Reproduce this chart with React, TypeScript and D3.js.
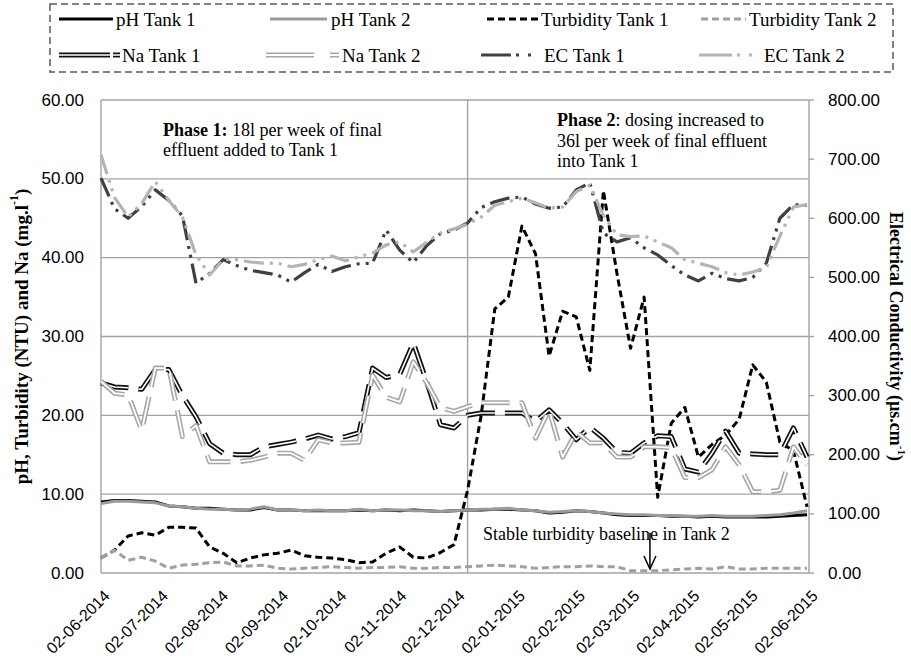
import React from "react";
import * as d3 from "d3";

const dates = [
  "2014-06-02","2014-06-09","2014-06-16","2014-06-23","2014-06-30","2014-07-07","2014-07-14","2014-07-21","2014-07-28",
  "2014-08-04","2014-08-11","2014-08-18","2014-08-25","2014-09-01","2014-09-08","2014-09-15","2014-09-22","2014-09-29",
  "2014-10-06","2014-10-13","2014-10-20","2014-10-27","2014-11-03","2014-11-10","2014-11-17","2014-11-24","2014-12-01",
  "2014-12-08","2014-12-15","2014-12-22","2014-12-29","2015-01-05","2015-01-12","2015-01-19","2015-01-26","2015-02-02",
  "2015-02-09","2015-02-16","2015-02-23","2015-03-02","2015-03-09","2015-03-16","2015-03-23","2015-03-30","2015-04-06",
  "2015-04-13","2015-04-20","2015-04-27","2015-05-04","2015-05-11","2015-05-18","2015-05-25","2015-06-01"
];

const phTank1 = [9.0,9.2,9.2,9.1,9.0,8.5,8.4,8.2,8.2,8.1,8.0,8.0,8.3,8.0,8.0,7.9,7.9,7.9,7.9,8.0,7.9,8.0,7.9,8.0,7.9,7.8,7.9,8.0,8.0,8.1,8.1,8.0,7.9,7.6,7.7,7.9,7.8,7.6,7.4,7.3,7.3,7.3,7.2,7.2,7.1,7.2,7.1,7.1,7.1,7.1,7.2,7.3,7.4];
const phTank2 = [8.8,9.1,9.1,9.0,8.9,8.5,8.4,8.2,8.1,8.1,8.0,8.1,8.4,8.0,8.0,7.9,8.0,7.9,7.9,8.1,7.9,8.0,8.0,7.9,7.9,7.8,7.9,8.0,8.1,8.1,8.2,8.0,7.9,7.7,7.8,7.9,7.8,7.6,7.5,7.4,7.4,7.3,7.3,7.2,7.2,7.3,7.2,7.2,7.2,7.3,7.4,7.6,7.9];
const turbTank1 = [1.9,2.9,4.7,5.1,4.8,5.8,5.8,5.7,3.3,2.5,1.3,1.9,2.3,2.5,2.9,2.2,2.0,1.9,1.7,1.3,1.4,2.5,3.3,2.0,1.9,2.6,3.6,10.5,20.0,33.5,35.0,44.0,40.5,27.5,33.2,32.5,25.7,48.5,38.0,28.5,35.0,9.6,19.0,21.0,14.7,16.3,17.5,19.5,26.4,24.2,16.6,15.5,8.4];
const turbTank2 = [1.9,2.9,1.6,2.0,1.5,0.6,1.0,1.1,1.3,1.4,0.9,0.9,1.0,0.6,0.5,0.6,0.7,0.8,0.7,0.6,0.7,0.7,0.8,0.6,0.6,0.7,0.7,0.8,0.9,1.0,0.9,0.8,0.6,0.7,0.8,0.8,0.9,0.8,0.8,0.3,0.3,0.3,0.4,0.5,0.6,0.5,0.8,0.5,0.5,0.6,0.6,0.6,0.6];
const naTank1 = [24.1,23.6,23.5,23.3,25.8,25.8,22.5,19.8,16.4,15.2,15.0,15.0,16.0,16.3,16.6,17.0,17.5,17.0,17.3,17.8,26.0,24.8,25.2,29.2,24.2,18.8,18.4,20.0,20.3,20.3,20.3,20.3,19.2,20.7,19.0,16.9,18.5,17.1,15.3,15.2,16.5,17.4,17.3,13.2,12.8,15.2,18.0,15.2,15.1,15.0,15.0,18.4,14.7];
const naTank2 = [24.3,22.8,22.6,18.1,26.0,26.0,17.3,18.7,14.1,14.1,14.1,14.3,14.7,15.2,15.2,14.3,16.9,16.5,16.5,16.6,25.1,22.3,21.7,26.8,24.1,21.0,20.5,21.1,21.6,21.6,21.6,21.6,17.1,20.7,14.7,17.9,16.5,16.5,14.7,14.7,16.0,16.0,15.9,12.1,12.1,13.1,16.0,13.7,10.3,10.3,10.5,16.0,13.7];
const ecTank1 = [668,616,600,620,648,630,604,490,507,530,520,512,508,504,492,508,522,510,518,523,524,580,546,525,554,574,580,592,618,628,634,636,624,617,619,648,660,575,560,567,550,538,520,504,494,507,498,494,500,524,600,623,622];
const ecTank2 = [707,635,602,625,662,630,602,538,504,530,530,526,524,524,518,522,530,536,528,535,541,555,560,543,560,575,582,590,602,622,628,634,626,617,619,645,656,605,572,569,570,560,550,530,524,518,508,504,509,516,570,619,623];

const xTickDates = ["2014-06-02","2014-07-02","2014-08-02","2014-09-02","2014-10-02","2014-11-02","2014-12-02","2015-01-02","2015-02-02","2015-03-02","2015-04-02","2015-05-02","2015-06-02"];
const leftTicks = [0, 10, 20, 30, 40, 50, 60];
const rightTicks = [0, 100, 200, 300, 400, 500, 600, 700, 800];
const phaseChangeDate = "2014-12-08";
const baselineArrowDate = "2015-03-12";

const parse = d3.timeParse("%Y-%m-%d");
const fmtDate = d3.timeFormat("%d-%m-%Y");

const SERIF = "'Liberation Serif', 'Times New Roman', serif";
const SANS = "'Liberation Sans', Arial, sans-serif";

export default function App() {
  const L = 101, R = 809, T = 100, B = 573;
  const dateObjs = dates.map((d) => parse(d) as Date);
  const x = d3.scaleTime().domain([parse("2014-06-02") as Date, parse("2015-06-02") as Date]).range([L, R]);
  const yL = d3.scaleLinear().domain([0, 60]).range([B, T]);
  const yR = d3.scaleLinear().domain([0, 800]).range([B, T]);

  const mk = (vals: number[], ys: d3.ScaleLinear<number, number>) =>
    d3.line<number>().x((_, i) => x(dateObjs[i])).y((d) => ys(d))(vals) || "";

  const phaseX = x(parse(phaseChangeDate) as Date);
  const arrowX = x(parse(baselineArrowDate) as Date);

  const series = [
    { d: mk(phTank1, yL), color: "#000", w: 3, dash: "" },
    { d: mk(phTank2, yL), color: "#9a9a9a", w: 3, dash: "" },
    { d: mk(turbTank1, yL), color: "#000", w: 3, dash: "7 4" },
    { d: mk(turbTank2, yL), color: "#a0a0a0", w: 3, dash: "7 4" },
  ];
  const doubles = [
    { d: mk(naTank1, yL), color: "#111", w: 5, inner: 1.6, dash: "28 10" },
    { d: mk(naTank2, yL), color: "#a6a6a6", w: 5, inner: 1.8, dash: "28 10" },
  ];
  const ecs = [
    { d: mk(ecTank1, yR), color: "#404040", w: 3.2, dash: "20 6 3 6 3 6" },
    { d: mk(ecTank2, yR), color: "#b4b4b4", w: 3.2, dash: "20 6 3 6 3 6" },
  ];

  const legendFont = 19;
  const row1 = 19, row2 = 55;

  return (
    <svg width={911} height={665} style={{ position: "absolute", left: 0, top: 0, background: "#fff" }}>
      <rect x={0} y={0} width={911} height={665} fill="#fff" />
      {leftTicks.map((t) => (
        <line key={"g" + t} x1={L} x2={R} y1={yL(t)} y2={yL(t)} stroke="#a3a3a3" strokeWidth={1.4} />
      ))}
      <line x1={L} x2={L} y1={T} y2={B} stroke="#a3a3a3" strokeWidth={1.4} />
      <line x1={R} x2={R} y1={T} y2={B} stroke="#a3a3a3" strokeWidth={1.4} />
      {rightTicks.map((t) => (
        <line key={"rt" + t} x1={R} x2={R + 5} y1={yR(t)} y2={yR(t)} stroke="#a3a3a3" strokeWidth={1.4} />
      ))}
      <line x1={phaseX} x2={phaseX} y1={T} y2={B} stroke="#a3a3a3" strokeWidth={1.4} />

      <g fill="none" strokeLinejoin="round">
        {series.map((s, i) => (
          <path key={"s" + i} d={s.d} stroke={s.color} strokeWidth={s.w} strokeDasharray={s.dash || undefined} />
        ))}
        {doubles.map((s, i) => (
          <g key={"n" + i}>
            <path d={s.d} stroke={s.color} strokeWidth={s.w} strokeDasharray={s.dash} />
            <path d={s.d} stroke="#fff" strokeWidth={s.inner} strokeDasharray={s.dash} />
          </g>
        ))}
        {ecs.map((s, i) => (
          <path key={"e" + i} d={s.d} stroke={s.color} strokeWidth={s.w} strokeDasharray={s.dash} />
        ))}
      </g>

      {leftTicks.map((t) => (
        <text key={"lt" + t} x={84} y={yL(t)} textAnchor="end" dominantBaseline="central" fontFamily={SANS} fontSize={17} fill="#000">
          {t.toFixed(2)}
        </text>
      ))}
      {rightTicks.map((t) => (
        <text key={"rl" + t} x={828} y={yR(t)} textAnchor="start" dominantBaseline="central" fontFamily={SANS} fontSize={17} fill="#000">
          {t.toFixed(2)}
        </text>
      ))}
      {xTickDates.map((d) => {
        const xx = x(parse(d) as Date) + 6;
        const yy = 593;
        return (
          <text key={"xt" + d} x={xx} y={yy} transform={`rotate(-45 ${xx} ${yy})`} textAnchor="end" dominantBaseline="central" fontFamily={SANS} fontSize={16} fill="#000">
            {fmtDate(parse(d) as Date)}
          </text>
        );
      })}

      <text transform={`translate(21 ${(T + B) / 2}) rotate(-90)`} textAnchor="middle" dominantBaseline="central" fontFamily={SERIF} fontWeight="bold" fontSize={19}>
        pH,  Turbidity (NTU) and Na (mg.l<tspan baselineShift="super" fontSize={12}>-1</tspan>)
      </text>
      <text transform={`translate(896 ${(T + B) / 2}) rotate(90)`} textAnchor="middle" dominantBaseline="central" fontFamily={SERIF} fontWeight="bold" fontSize={18}>
        Electrical Conductivity (µs.cm<tspan baselineShift="super" fontSize={11}>-1</tspan>)
      </text>

      <text x={163} y={136} fontFamily={SERIF} fontSize={18}>
        <tspan fontWeight="bold">Phase 1:</tspan> 18l per week of final
      </text>
      <text x={163} y={156} fontFamily={SERIF} fontSize={18}>effluent added to Tank 1</text>
      <text x={557} y={126} fontFamily={SERIF} fontSize={18}>
        <tspan fontWeight="bold">Phase 2</tspan>: dosing increased to
      </text>
      <text x={557} y={146.5} fontFamily={SERIF} fontSize={18}>36l per week of final effluent</text>
      <text x={557} y={167} fontFamily={SERIF} fontSize={18}>into Tank 1</text>
      <text x={483} y={540} fontFamily={SERIF} fontSize={18}>Stable turbidity baseline in Tank 2</text>
      <line x1={arrowX} x2={arrowX} y1={yL(5.1)} y2={yL(0.5)} stroke="#000" strokeWidth={1.5} />
      <path d={`M${arrowX - 6},${yL(0.5) - 13} L${arrowX},${yL(0.5)} L${arrowX + 6},${yL(0.5) - 13}`} fill="none" stroke="#000" strokeWidth={1.5} />

      <rect x={50} y={4} width={843} height={68} fill="#fff" stroke="#595959" strokeWidth={1.5} strokeDasharray="7 4" />
      <g fontFamily={SERIF} fontSize={legendFont} fill="#000">
        <line x1={59} x2={113} y1={row1} y2={row1} stroke="#000" strokeWidth={3} />
        <text x={116} y={row1} dominantBaseline="central">pH Tank 1</text>
        <line x1={270} x2={327} y1={row1} y2={row1} stroke="#9a9a9a" strokeWidth={3} />
        <text x={331} y={row1} dominantBaseline="central">pH Tank 2</text>
        <line x1={487} x2={538} y1={row1} y2={row1} stroke="#000" strokeWidth={3} strokeDasharray="7 4" />
        <text x={541} y={row1} dominantBaseline="central">Turbidity Tank 1</text>
        <line x1={701} x2={746} y1={row1} y2={row1} stroke="#a0a0a0" strokeWidth={3} strokeDasharray="7 4" />
        <text x={749} y={row1} dominantBaseline="central">Turbidity Tank 2</text>

        <line x1={59} x2={120} y1={row2} y2={row2} stroke="#111" strokeWidth={5} strokeDasharray="51 3 7" />
        <line x1={59} x2={120} y1={row2} y2={row2} stroke="#fff" strokeWidth={1.6} strokeDasharray="51 3 7" />
        <text x={122} y={row2} dominantBaseline="central">Na Tank 1</text>
        <line x1={266} x2={339} y1={row2} y2={row2} stroke="#a6a6a6" strokeWidth={5} strokeDasharray="48 16 9" />
        <line x1={266} x2={339} y1={row2} y2={row2} stroke="#fff" strokeWidth={1.8} strokeDasharray="48 16 9" />
        <text x={342} y={row2} dominantBaseline="central">Na Tank 2</text>
        <line x1={481} x2={535} y1={row2} y2={row2} stroke="#404040" strokeWidth={3.2} strokeDasharray="30 5 3 9 3 9" />
        <text x={544} y={row2} dominantBaseline="central">EC Tank 1</text>
        <line x1={699} x2={758} y1={row2} y2={row2} stroke="#b4b4b4" strokeWidth={3.2} strokeDasharray="33 5 3 9 3 9" />
        <text x={764} y={row2} dominantBaseline="central">EC Tank 2</text>
      </g>
    </svg>
  );
}
